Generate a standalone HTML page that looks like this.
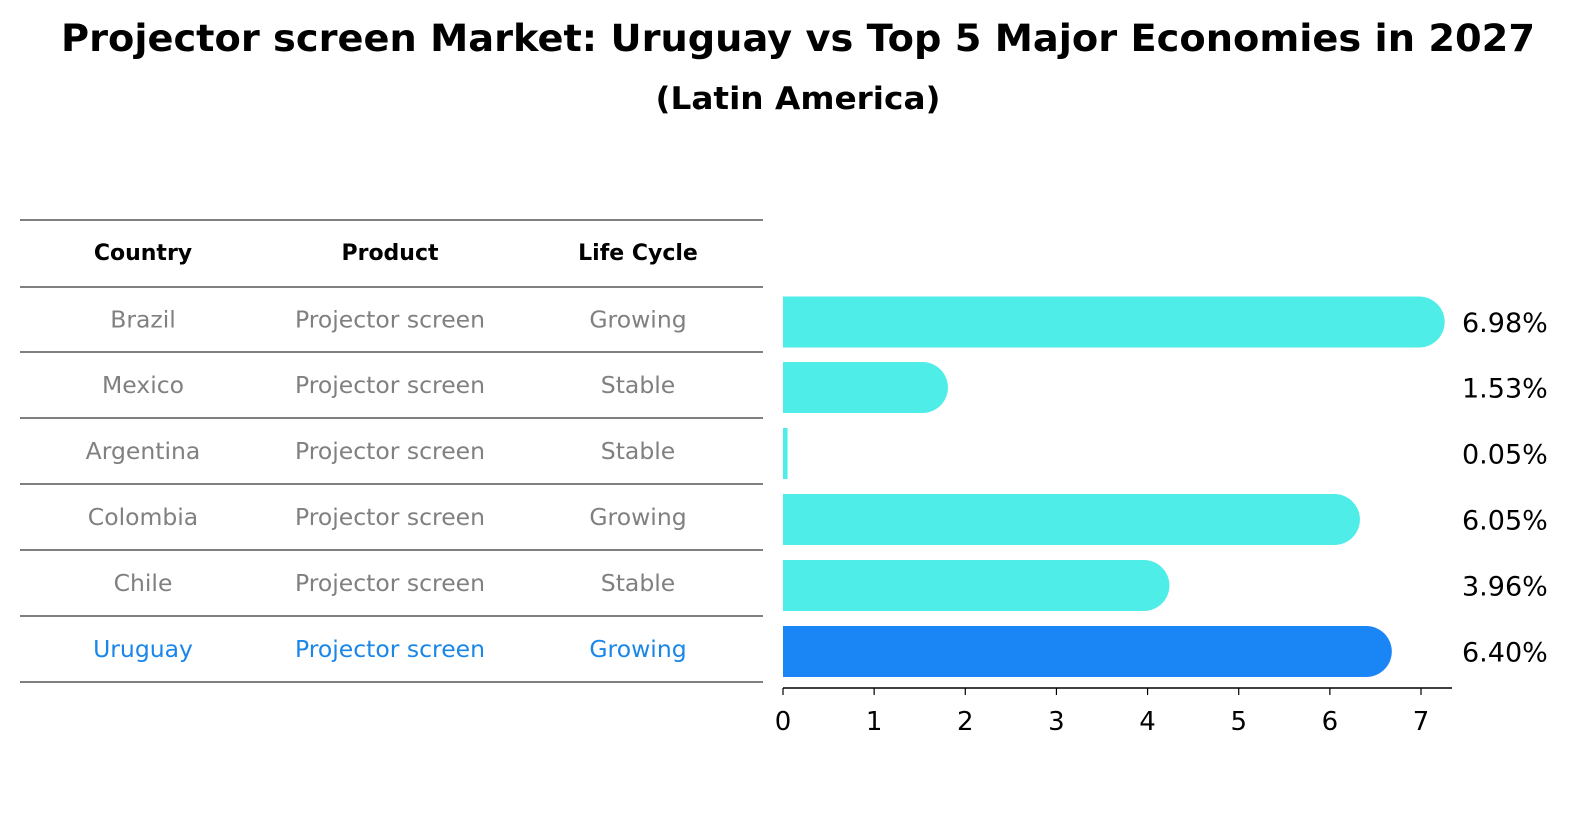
<!DOCTYPE html>
<html><head><meta charset="utf-8"><style>
body{margin:0;background:#fff;}
svg{display:block;font-family:"DejaVu Sans","Liberation Sans",sans-serif;}
</style></head><body>
<svg width="1586" height="823" viewBox="0 0 1586 823">
<text x="798" y="51" text-anchor="middle" font-size="37" font-weight="bold" textLength="1474" lengthAdjust="spacingAndGlyphs">Projector screen Market: Uruguay vs Top 5 Major Economies in 2027</text>
<text x="798" y="109" text-anchor="middle" font-size="31" font-weight="bold" textLength="285" lengthAdjust="spacingAndGlyphs">(Latin America)</text>
<g id="table"></g>
<g id="bars"></g>
</svg>
<script>
const countries=["Brazil","Mexico","Argentina","Colombia","Chile","Uruguay"];
const products=["Projector screen","Projector screen","Projector screen","Projector screen","Projector screen","Projector screen"];
const lifecycles=["Growing","Stable","Stable","Growing","Stable","Growing"];
const values=[6.98,1.53,0.05,6.05,3.96,6.40];
const ticks=[0,1,2,3,4,5,6,7];
const NS="http://www.w3.org/2000/svg";
function mk(tag,attrs,parent){const e=document.createElementNS(NS,tag);for(const k in attrs)e.setAttribute(k,attrs[k]);parent.appendChild(e);return e;}
const tbl=document.getElementById('table');
const lineYs=[220,287,352,418,484,550,616,682];
lineYs.forEach((y,i)=>{const l=mk('line',{x1:20,x2:763,y1:y,y2:y,stroke:'#000','stroke-width':1},tbl);

});
const colX=[143,390,638];
["Country","Product","Life Cycle"].forEach((h,i)=>{const t=mk('text',{x:colX[i],y:260,'text-anchor':'middle','font-size':22,'font-weight':'bold'},tbl);t.textContent=h;

});
const rowY=i=>(lineYs[i+1]+lineYs[i+2])/2;
countries.forEach((c,i)=>{const col=i===countries.length-1?'#1a86e8':'#808080';
[c,products[i],lifecycles[i]].forEach((v,j)=>{const t=mk('text',{x:colX[j],y:rowY(i)+8,'text-anchor':'middle','font-size':23.5,fill:col},tbl);t.textContent=v;

});});
const g=document.getElementById('bars');
const x0=783,scale=(1421-783)/7;
const x=v=>x0+v*scale;
const bh=51;
values.forEach((v,i)=>{const cy=rowY(i)+2.5;const col=i===values.length-1?'#1a86f5':'#4eede8';
const r=mk('rect',{x:x0,y:cy-bh/2,width:Math.max(x(v)-x0,1),height:bh,fill:col},g);


if(v>0.5){const c=mk('circle',{cx:x(v),cy:cy,r:bh/2,fill:col},g);

}
const t=mk('text',{x:1462,y:cy+10,'font-size':27},g);t.textContent=v.toFixed(2)+'%';

});
const ax=mk('line',{x1:x0,x2:1452,y1:688,y2:688,stroke:'#000','stroke-width':1.5},g);


ticks.forEach(tk=>{const l=mk('line',{x1:x(tk),x2:x(tk),y1:688,y2:695,stroke:'#000','stroke-width':1.2},g);


const t=mk('text',{x:x(tk),y:730,'text-anchor':'middle','font-size':26},g);t.textContent=tk;

});
</script>
</body></html>
